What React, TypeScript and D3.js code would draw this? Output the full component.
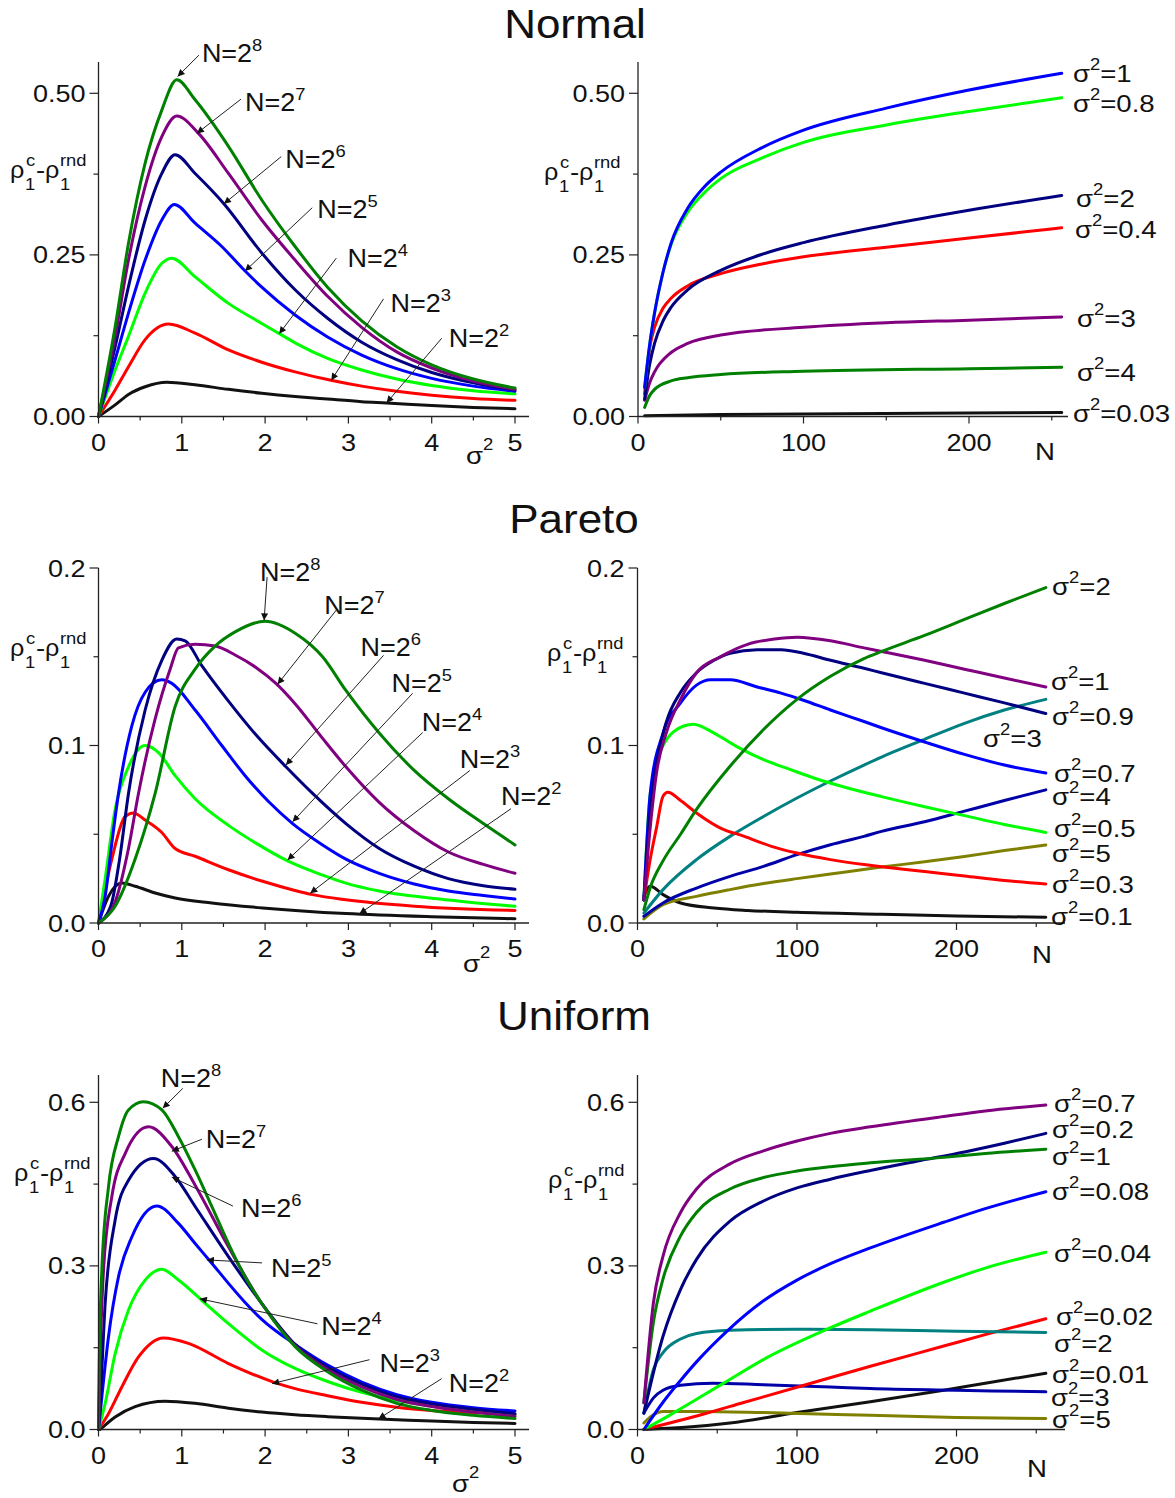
import React from 'react';
import * as d3 from 'd3';

type Pt = [number, number];

// ---------- colours ----------
const C = {
  green: '#008000', purple: '#800080', navy: '#000080', blue: '#0000ff',
  lime: '#00ff00', red: '#ff0000', black: '#111111', teal: '#008080',
  olive: '#808000', dblue: '#0000a8',
};

// ---------- tick labels ----------
const sigmaTicks = [0, 1, 2, 3, 4, 5];
const sigmaMinor = [0.5, 1.5, 2.5, 3.5, 4.5];
const nTicks = [0, 100, 200];
const nMinor = [50, 150, 250];
const normalY = [0, 0.25, 0.5];
const normalYMinor = [0.125, 0.375];
const paretoY = [0, 0.1, 0.2];
const paretoYMinor = [0.05, 0.15];
const uniformY = [0, 0.3, 0.6];
const uniformYMinor = [0.15, 0.45];

// ---------- Normal, vs sigma^2 ----------
const normalL_N8: Pt[] = [[0,0],[0.2,0.139],[0.36,0.268],[0.56,0.392],[0.76,0.474],[0.94,0.521],[1.16,0.49],[1.56,0.418],[1.96,0.335],[2.36,0.263],[2.75,0.2],[3.16,0.148],[3.58,0.108],[4,0.08],[4.5,0.058],[5,0.044]];
const normalL_N7: Pt[] = [[0,0],[0.2,0.124],[0.36,0.242],[0.56,0.356],[0.76,0.433],[0.94,0.465],[1.2,0.438],[1.56,0.376],[1.96,0.304],[2.36,0.242],[2.75,0.186],[3.16,0.138],[3.58,0.1],[4,0.075],[4.5,0.055],[5,0.042]];
const normalL_N6: Pt[] = [[0,0],[0.2,0.108],[0.36,0.201],[0.56,0.304],[0.76,0.376],[0.92,0.405],[1.16,0.376],[1.5,0.33],[1.96,0.253],[2.36,0.196],[2.75,0.152],[3.16,0.115],[3.58,0.088],[4,0.068],[4.5,0.052],[5,0.041]];
const normalL_N5: Pt[] = [[0,0],[0.2,0.088],[0.36,0.16],[0.56,0.242],[0.76,0.304],[0.91,0.328],[1.16,0.299],[1.48,0.263],[1.76,0.225],[1.96,0.2],[2.36,0.157],[2.75,0.123],[3.16,0.095],[3.58,0.074],[4,0.059],[4.5,0.047],[5,0.039]];
const normalL_N4: Pt[] = [[0,0],[0.2,0.072],[0.36,0.124],[0.56,0.191],[0.76,0.237],[0.88,0.245],[1.16,0.216],[1.56,0.175],[1.96,0.144],[2.16,0.129],[2.36,0.114],[2.75,0.09],[3.16,0.072],[3.58,0.058],[4,0.048],[4.5,0.04],[5,0.035]];
const normalL_N3: Pt[] = [[0,0],[0.2,0.041],[0.36,0.077],[0.56,0.119],[0.84,0.143],[1.16,0.129],[1.56,0.103],[1.96,0.084],[2.36,0.069],[2.79,0.056],[3.16,0.047],[3.58,0.039],[4,0.033],[4.5,0.028],[5,0.025]];
const normalL_N2: Pt[] = [[0,0],[0.2,0.018],[0.36,0.034],[0.56,0.046],[0.82,0.053],[1.16,0.049],[1.56,0.042],[1.96,0.036],[2.36,0.031],[2.75,0.027],[3.16,0.023],[3.46,0.021],[4,0.017],[4.5,0.014],[5,0.012]];

// ---------- Normal, vs N ----------
const normalR_s1: Pt[] = [[4,0.045],[7,0.11],[10,0.16],[15,0.222],[20,0.268],[30,0.322],[40,0.355],[50,0.378],[75,0.416],[100,0.443],[150,0.477],[200,0.505],[256,0.531]];
const normalR_s08: Pt[] = [[4,0.045],[7,0.11],[10,0.16],[15,0.222],[20,0.266],[30,0.316],[40,0.346],[50,0.368],[75,0.4],[100,0.424],[150,0.451],[200,0.472],[256,0.493]];
const normalR_s2: Pt[] = [[4,0.027],[7,0.08],[10,0.113],[15,0.147],[20,0.169],[30,0.196],[50,0.226],[75,0.251],[100,0.269],[150,0.296],[200,0.319],[256,0.342]];
const normalR_s04: Pt[] = [[4,0.035],[7,0.105],[10,0.138],[15,0.167],[20,0.183],[30,0.202],[50,0.221],[75,0.236],[100,0.247],[150,0.262],[200,0.276],[256,0.292]];
const normalR_s3: Pt[] = [[4,0.025],[7,0.052],[10,0.069],[20,0.099],[30,0.113],[50,0.126],[100,0.138],[150,0.145],[200,0.149],[256,0.154]];
const normalR_s4: Pt[] = [[4,0.014],[7,0.032],[10,0.042],[20,0.055],[30,0.06],[50,0.065],[100,0.07],[200,0.074],[256,0.076]];
const normalR_s003: Pt[] = [[4,0.001],[50,0.003],[100,0.004],[200,0.0055],[256,0.006]];

// ---------- Pareto, vs sigma^2 ----------
const paretoL_N8: Pt[] = [[0,0],[0.2,0.0094],[0.44,0.036],[0.68,0.073],[0.92,0.122],[1.16,0.143],[1.4,0.156],[1.64,0.164],[2.0,0.17],[2.37,0.163],[2.69,0.15],[2.97,0.131],[3.37,0.107],[3.79,0.086],[4.2,0.07],[4.62,0.056],[5,0.044]];
const paretoL_N7: Pt[] = [[0,0],[0.2,0.012],[0.36,0.042],[0.48,0.073],[0.68,0.115],[0.86,0.143],[0.96,0.155],[1.16,0.157],[1.4,0.156],[1.64,0.151],[1.89,0.144],[2.13,0.135],[2.37,0.123],[2.69,0.104],[2.97,0.088],[3.37,0.068],[3.79,0.052],[4.2,0.04],[4.62,0.033],[5,0.028]];
const paretoL_N6: Pt[] = [[0,0],[0.15,0.01],[0.25,0.035],[0.36,0.073],[0.56,0.12],[0.76,0.148],[0.94,0.16],[1.04,0.159],[1.24,0.145],[1.56,0.125],[1.89,0.106],[2.25,0.088],[2.57,0.073],[2.97,0.056],[3.37,0.042],[3.79,0.032],[4.2,0.025],[4.62,0.021],[5,0.019]];
const paretoL_N5: Pt[] = [[0,0],[0.08,0.015],[0.16,0.045],[0.24,0.073],[0.4,0.111],[0.56,0.13],[0.76,0.137],[0.88,0.135],[1.16,0.12],[1.48,0.1],[1.76,0.083],[2.05,0.068],[2.33,0.056],[2.69,0.044],[2.97,0.036],[3.37,0.028],[3.79,0.022],[4.2,0.018],[4.62,0.0155],[5,0.0135]];
const paretoL_N4: Pt[] = [[0,0],[0.08,0.025],[0.2,0.064],[0.36,0.088],[0.56,0.1],[0.72,0.096],[0.92,0.083],[1.16,0.07],[1.56,0.055],[1.89,0.045],[2.27,0.035],[2.69,0.027],[2.97,0.0225],[3.37,0.018],[4.2,0.013],[5,0.0094]];
const paretoL_N3: Pt[] = [[0,0],[0.16,0.036],[0.32,0.06],[0.42,0.062],[0.56,0.058],[0.76,0.051],[0.92,0.042],[1.16,0.0376],[1.56,0.03],[1.97,0.0235],[2.37,0.0182],[2.57,0.016],[2.97,0.0131],[3.79,0.0095],[5,0.0071]];
const paretoL_N2: Pt[] = [[0,0],[0.12,0.015],[0.28,0.0225],[0.44,0.0207],[0.68,0.0169],[0.92,0.0141],[1.36,0.0113],[1.97,0.0085],[2.97,0.0053],[4,0.0035],[5,0.0024]];

// ---------- Pareto, vs N ----------
const paretoR_s2: Pt[] = [[4,0.0075],[8,0.02],[16,0.035],[27,0.05],[37,0.064],[58,0.0883],[79,0.109],[100,0.126],[121,0.139],[142,0.149],[153,0.153],[180,0.162],[205,0.171],[230,0.18],[256,0.189]];
const paretoR_s1: Pt[] = [[4,0.013],[8,0.054],[12,0.085],[18,0.107],[27,0.126],[37,0.141],[52,0.15],[69,0.157],[86,0.16],[100,0.161],[121,0.159],[142,0.155],[153,0.153],[180,0.148],[205,0.143],[230,0.138],[256,0.133]];
const paretoR_s09: Pt[] = [[4,0.013],[8,0.062],[12,0.09],[18,0.113],[27,0.13],[37,0.141],[48,0.148],[58,0.152],[75,0.154],[90,0.154],[104,0.152],[121,0.148],[142,0.1435],[153,0.141],[180,0.135],[205,0.1295],[230,0.124],[256,0.118]];
const paretoR_s07: Pt[] = [[4,0.013],[8,0.073],[16,0.107],[27,0.124],[37,0.134],[46,0.137],[58,0.137],[75,0.133],[90,0.1295],[104,0.1255],[121,0.12],[142,0.1135],[153,0.11],[180,0.102],[205,0.095],[230,0.089],[256,0.0845]];
const paretoR_s05: Pt[] = [[4,0.013],[8,0.073],[16,0.1],[29,0.111],[35,0.112],[48,0.107],[62,0.0995],[79,0.092],[96,0.0864],[113,0.081],[130,0.0765],[153,0.0712],[180,0.0655],[205,0.0605],[230,0.0555],[256,0.051]];
const paretoR_s03: Pt[] = [[4,0.013],[8,0.036],[12,0.054],[16,0.0714],[19,0.0736],[27,0.069],[37,0.062],[52,0.0535],[67,0.0488],[84,0.0432],[100,0.0394],[121,0.0357],[142,0.0329],[153,0.0317],[180,0.029],[205,0.0265],[230,0.024],[256,0.022]];
const paretoR_s01: Pt[] = [[4,0.015],[8,0.0207],[16,0.016],[27,0.0113],[48,0.0085],[69,0.0071],[100,0.006],[153,0.0049],[200,0.004],[256,0.0032]];
const paretoR_s3: Pt[] = [[4,0.0056],[16,0.0188],[37,0.0357],[58,0.0488],[79,0.06],[100,0.0704],[121,0.08],[142,0.089],[153,0.0935],[180,0.1035],[205,0.1125],[230,0.12],[256,0.126]];
const paretoR_s4: Pt[] = [[4,0.0038],[16,0.0113],[37,0.0197],[58,0.0263],[79,0.0319],[100,0.0385],[121,0.0441],[142,0.0488],[153,0.0516],[180,0.057],[205,0.063],[230,0.069],[256,0.075]];
const paretoR_s5: Pt[] = [[4,0.0023],[16,0.0103],[37,0.015],[58,0.0188],[79,0.0222],[100,0.025],[121,0.0276],[153,0.0315],[180,0.0345],[205,0.0375],[230,0.0408],[256,0.044]];

// ---------- Uniform, vs sigma^2 ----------
const uniformL_N8: Pt[] = [[0,0],[0.008,0.109],[0.04,0.292],[0.12,0.445],[0.24,0.537],[0.36,0.586],[0.54,0.601],[0.76,0.586],[0.96,0.537],[1.16,0.476],[1.36,0.409],[1.56,0.341],[1.76,0.28],[1.96,0.231],[2.36,0.152],[2.75,0.106],[3.16,0.072],[3.58,0.048],[4,0.035],[4.5,0.026],[5,0.02]];
const uniformL_N7: Pt[] = [[0,0],[0.016,0.109],[0.06,0.292],[0.16,0.427],[0.32,0.506],[0.6,0.555],[0.88,0.519],[1.16,0.448],[1.56,0.335],[1.96,0.231],[2.36,0.154],[2.75,0.11],[3.16,0.078],[3.58,0.055],[4,0.042],[4.5,0.032],[5,0.024]];
const uniformL_N6: Pt[] = [[0,0],[0.02,0.048],[0.08,0.231],[0.2,0.384],[0.36,0.457],[0.66,0.497],[0.92,0.464],[1.16,0.409],[1.56,0.317],[1.96,0.231],[2.36,0.156],[2.75,0.114],[3.16,0.083],[3.58,0.06],[4,0.047],[4.5,0.037],[5,0.029]];
const uniformL_N5: Pt[] = [[0,0],[0.04,0.06],[0.12,0.17],[0.24,0.28],[0.4,0.353],[0.7,0.41],[0.96,0.378],[1.16,0.341],[1.36,0.305],[1.56,0.268],[1.76,0.233],[1.96,0.202],[2.36,0.156],[2.75,0.118],[3.16,0.087],[3.58,0.064],[4,0.05],[4.5,0.04],[5,0.034]];
const uniformL_N4: Pt[] = [[0,0],[0.08,0.048],[0.2,0.139],[0.36,0.219],[0.56,0.274],[0.76,0.294],[0.96,0.274],[1.24,0.237],[1.56,0.194],[1.96,0.146],[2.36,0.112],[2.75,0.088],[3.16,0.068],[3.58,0.053],[4,0.043],[4.5,0.033],[5,0.026]];
const uniformL_N3: Pt[] = [[0,0],[0.12,0.029],[0.28,0.078],[0.48,0.133],[0.78,0.168],[1.08,0.158],[1.56,0.121],[2.1,0.087],[2.36,0.075],[2.75,0.062],[3.16,0.05],[3.58,0.041],[4,0.035],[4.5,0.031],[5,0.028]];
const uniformL_N2: Pt[] = [[0.02,0],[0.2,0.023],[0.44,0.042],[0.8,0.052],[1.16,0.048],[1.56,0.039],[1.96,0.032],[2.36,0.027],[2.75,0.0235],[3.16,0.0205],[3.58,0.018],[4,0.0155],[4.5,0.013],[5,0.011]];

// ---------- Uniform, vs N ----------
const uniformR_s07: Pt[] = [[4,0.049],[10,0.233],[16,0.318],[27,0.398],[37,0.441],[58,0.487],[79,0.511],[100,0.529],[121,0.543],[146,0.555],[192,0.574],[218,0.584],[256,0.595]];
const uniformR_s1: Pt[] = [[4,0.049],[10,0.197],[16,0.276],[27,0.355],[37,0.398],[58,0.441],[79,0.462],[100,0.474],[121,0.482],[146,0.489],[192,0.499],[218,0.506],[256,0.514]];
const uniformR_s02: Pt[] = [[4,0.03],[16,0.171],[27,0.257],[37,0.312],[58,0.382],[79,0.419],[100,0.443],[121,0.459],[146,0.475],[175,0.492],[205,0.509],[230,0.525],[256,0.543]];
const uniformR_s008: Pt[] = [[4,0],[16,0.05],[27,0.09],[37,0.124],[56,0.18],[79,0.236],[100,0.274],[121,0.304],[146,0.333],[192,0.38],[218,0.405],[256,0.436]];
const uniformR_s004: Pt[] = [[4,0],[20,0.026],[54,0.085],[80,0.13],[119,0.184],[146,0.217],[192,0.27],[218,0.296],[256,0.325]];
const uniformR_s002: Pt[] = [[4,0],[41,0.028],[66,0.049],[106,0.0826],[146,0.116],[192,0.153],[218,0.174],[256,0.203]];
const uniformR_s2: Pt[] = [[4,0.03],[10,0.11],[16,0.141],[27,0.166],[37,0.176],[58,0.182],[100,0.184],[146,0.183],[200,0.18],[256,0.178]];
const uniformR_s001: Pt[] = [[4,0],[30,0.004],[58,0.012],[100,0.031],[146,0.051],[192,0.072],[218,0.085],[256,0.103]];
const uniformR_s3: Pt[] = [[4,0.03],[10,0.058],[16,0.072],[27,0.081],[47,0.085],[79,0.082],[121,0.078],[146,0.075],[200,0.072],[256,0.069]];
const uniformR_s5: Pt[] = [[4,0.012],[10,0.027],[16,0.033],[37,0.033],[79,0.031],[146,0.026],[200,0.022],[256,0.02]];

// ---------- N=2^k annotations (data units): text anchor, arrow start, arrow tip ----------
type Ann = { k: string; tx: number; ty: number; fx: number; fy: number; ax: number; ay: number };
const normalAnn: Ann[] = [
  { k: '8', tx: 1.241, ty: 0.548, fx: 1.205, fy: 0.559, ax: 0.95, ay: 0.526 },
  { k: '7', tx: 1.759, ty: 0.472, fx: 1.711, fy: 0.491, ax: 1.181, ay: 0.438 },
  { k: '6', tx: 2.241, ty: 0.385, fx: 2.193, fy: 0.402, ax: 1.506, ay: 0.329 },
  { k: '5', tx: 2.627, ty: 0.307, fx: 2.566, fy: 0.323, ax: 1.759, ay: 0.225 },
  { k: '4', tx: 2.988, ty: 0.231, fx: 2.855, fy: 0.245, ax: 2.169, ay: 0.128 },
  { k: '3', tx: 3.506, ty: 0.161, fx: 3.422, fy: 0.182, ax: 2.795, ay: 0.056 },
  { k: '2', tx: 4.205, ty: 0.107, fx: 4.12, fy: 0.121, ax: 3.458, ay: 0.021 },
];
const paretoAnn: Ann[] = [
  { k: '8', tx: 1.94, ty: 0.1927, fx: 2.024, fy: 0.1949, ax: 1.988, ay: 0.1705 },
  { k: '7', tx: 2.711, ty: 0.174, fx: 2.855, fy: 0.1763, ax: 2.15, ay: 0.1345 },
  { k: '6', tx: 3.145, ty: 0.1503, fx: 3.422, fy: 0.1508, ax: 2.25, ay: 0.089 },
  { k: '5', tx: 3.518, ty: 0.13, fx: 3.771, fy: 0.1294, ax: 2.33, ay: 0.057 },
  { k: '4', tx: 3.88, ty: 0.1079, fx: 3.892, fy: 0.1073, ax: 2.27, ay: 0.0355 },
  { k: '3', tx: 4.337, ty: 0.0876, fx: 4.458, fy: 0.0859, ax: 2.542, ay: 0.0168 },
  { k: '2', tx: 4.831, ty: 0.0667, fx: 4.952, fy: 0.0644, ax: 3.133, ay: 0.0052 },
];
const uniformAnn: Ann[] = [
  { k: '8', tx: 0.747, ty: 0.6274, fx: 1.012, fy: 0.6256, ax: 0.771, ay: 0.589 },
  { k: '7', tx: 1.289, ty: 0.5158, fx: 1.241, fy: 0.5323, ax: 0.88, ay: 0.5103 },
  { k: '6', tx: 1.711, ty: 0.3896, fx: 1.614, fy: 0.4097, ax: 0.88, ay: 0.4628 },
  { k: '5', tx: 2.072, ty: 0.2799, fx: 1.964, fy: 0.3055, ax: 1.301, ay: 0.311 },
  { k: '4', tx: 2.675, ty: 0.1738, fx: 2.627, fy: 0.1939, ax: 1.217, ay: 0.2396 },
  { k: '3', tx: 3.373, ty: 0.1061, fx: 3.253, fy: 0.128, ax: 2.084, ay: 0.0841 },
  { k: '2', tx: 4.205, ty: 0.0695, fx: 4.12, fy: 0.0933, ax: 3.361, ay: 0.0195 },
];

// ---------- sigma^2 curve labels (data units) ----------
type Lab = { v: string; x: number; y: number };
const normalLabs: Lab[] = [
  { v: '1', x: 262.8, y: 0.5175 }, { v: '0.8', x: 262.8, y: 0.471 }, { v: '2', x: 264.7, y: 0.3241 },
  { v: '0.4', x: 264, y: 0.2761 }, { v: '3', x: 265.3, y: 0.1384 }, { v: '4', x: 265.3, y: 0.0549 },
  { v: '0.03', x: 262.8, y: -0.0085 },
];
const paretoLabs: Lab[] = [
  { v: '2', x: 259.9, y: 0.1848 }, { v: '1', x: 259.2, y: 0.1313 }, { v: '0.9', x: 259.9, y: 0.1115 },
  { v: '3', x: 216.6, y: 0.0992 }, { v: '0.7', x: 261.1, y: 0.0794 }, { v: '4', x: 259.9, y: 0.0665 },
  { v: '0.5', x: 261.1, y: 0.0485 }, { v: '5', x: 259.9, y: 0.0344 }, { v: '0.3', x: 259.9, y: 0.0169 },
  { v: '0.1', x: 259.2, y: -0.0011 },
];
const uniformLabs: Lab[] = [
  { v: '0.7', x: 261.1, y: 0.5822 }, { v: '0.2', x: 259.9, y: 0.5346 }, { v: '1', x: 259.9, y: 0.485 },
  { v: '0.08', x: 259.9, y: 0.4208 }, { v: '0.04', x: 261.1, y: 0.3072 }, { v: '0.02', x: 262.4, y: 0.1916 },
  { v: '2', x: 261.1, y: 0.1421 }, { v: '0.01', x: 259.9, y: 0.0853 }, { v: '3', x: 259.2, y: 0.0431 },
  { v: '5', x: 259.9, y: 0.0028 },
];

const FONT = '"Liberation Sans", Arial, Helvetica, sans-serif';
const AX = '#222';
const SX = 1.15; // the reference lettering is slightly wide

type S = { pts: Pt[]; color: string };
type XG = { d1: number; r0: number; r1: number; end: number };
type YG = { d1: number; r0: number; r1: number; top: number };

function T(props: { x: number; y: number; size: number; anchor?: string; sx?: number; children: React.ReactNode }) {
  const sx = props.sx ?? SX;
  return (
    <text transform={`translate(${props.x},${props.y}) scale(${sx},1)`} fontSize={props.size}
      textAnchor={props.anchor || 'start'} fill="#111" fontFamily={FONT}>{props.children}</text>
  );
}

function YLabel({ x, y }: { x: number; y: number }) {
  return (
    <g>
      <T x={x} y={y} size={24} sx={1.05}>ρ</T>
      <T x={x + 16} y={y - 12} size={16}>c</T>
      <T x={x + 15} y={y + 12} size={16}>1</T>
      <T x={x + 26} y={y} size={24}>-</T>
      <T x={x + 35} y={y} size={24} sx={1.05}>ρ</T>
      <T x={x + 50} y={y - 12} size={16}>rnd</T>
      <T x={x + 50} y={y + 12} size={16}>1</T>
    </g>
  );
}

function Panel(props: {
  xg: XG; yg: YG; xMajor: number[]; xMinor: number[]; yMajor: number[]; yMinor: number[];
  yFmt: (v: number) => string; series: S[]; ann?: Ann[]; labs?: Lab[];
  ylab: [number, number]; xlab: { kind: 'sigma' | 'N'; x: number; y: number };
}) {
  const { xg, yg } = props;
  const xs = d3.scaleLinear().domain([0, xg.d1]).range([xg.r0, xg.r1]);
  const ys = d3.scaleLinear().domain([0, yg.d1]).range([yg.r0, yg.r1]);
  const line = d3.line<Pt>().x(d => xs(d[0])).y(d => ys(d[1])).curve(d3.curveMonotoneX);
  return (
    <g>
      {props.series.map((s, i) => (
        <path key={i} d={line(s.pts) || ''} fill="none" stroke={s.color} strokeWidth={3} strokeLinejoin="round" strokeLinecap="round" />
      ))}
      <line x1={xg.r0} y1={yg.r0} x2={xg.end} y2={yg.r0} stroke={AX} strokeWidth={1.3} />
      <line x1={xg.r0} y1={yg.r0} x2={xg.r0} y2={yg.top} stroke={AX} strokeWidth={1.3} />
      {props.xMajor.map(v => (
        <g key={'xm' + v}>
          <line x1={xs(v)} x2={xs(v)} y1={yg.r0} y2={yg.r0 + 7} stroke={AX} strokeWidth={1.2} />
          <T x={xs(v)} y={yg.r0 + 34} size={23.5} anchor="middle">{v}</T>
        </g>
      ))}
      {props.xMinor.map(v => (
        <line key={'xn' + v} x1={xs(v)} x2={xs(v)} y1={yg.r0} y2={yg.r0 + 4} stroke={AX} strokeWidth={1.2} />
      ))}
      {props.yMajor.map(v => (
        <g key={'ym' + v}>
          <line x1={xg.r0 - 9} x2={xg.r0} y1={ys(v)} y2={ys(v)} stroke={AX} strokeWidth={1.2} />
          <T x={xg.r0 - 13} y={ys(v) + 8.5} size={23.5} anchor="end">{props.yFmt(v)}</T>
        </g>
      ))}
      {props.yMinor.map(v => (
        <line key={'yn' + v} x1={xg.r0 - 5} x2={xg.r0} y1={ys(v)} y2={ys(v)} stroke={AX} strokeWidth={1.2} />
      ))}
      <YLabel x={props.ylab[0]} y={props.ylab[1]} />
      {props.xlab.kind === 'sigma' ? (
        <T x={props.xlab.x} y={props.xlab.y} size={24}>σ<tspan dy={-14} fontSize={16}>2</tspan></T>
      ) : (
        <T x={props.xlab.x} y={props.xlab.y} size={24}>N</T>
      )}
      {(props.ann || []).map((a, i) => (
        <g key={'a' + i}>
          <line x1={xs(a.fx)} y1={ys(a.fy)} x2={xs(a.ax)} y2={ys(a.ay)} stroke="#222" strokeWidth={1} markerEnd="url(#arr)" />
          <T x={xs(a.tx)} y={ys(a.ty)} size={25} sx={1.08}>N=2<tspan dy={-11} fontSize={17}>{a.k}</tspan></T>
        </g>
      ))}
      {(props.labs || []).map((l, i) => (
        <T key={'l' + i} x={xs(l.x)} y={ys(l.y)} size={24}>σ<tspan dy={-12} fontSize={16}>2</tspan><tspan dy={12}>={l.v}</tspan></T>
      ))}
    </g>
  );
}

const f2 = (v: number) => v.toFixed(2);
const f1 = (v: number) => v.toFixed(1);

export default function App() {
  const leftX: XG = { d1: 5, r0: 98.5, r1: 515, end: 529 };
  const rightXTop: XG = { d1: 200, r0: 638, r1: 969, end: 1068 };
  const rightX: XG = { d1: 200, r0: 637.5, r1: 956.5, end: 1065 };
  const yTop: YG = { d1: 0.5, r0: 416.5, r1: 93.3, top: 62 };
  const yMid: YG = { d1: 0.2, r0: 923, r1: 568, top: 568 };
  const yBot: YG = { d1: 0.6, r0: 1429.5, r1: 1102.3, top: 1075 };

  const nLeft: S[] = [
    { pts: normalL_N2, color: C.black }, { pts: normalL_N3, color: C.red }, { pts: normalL_N4, color: C.lime },
    { pts: normalL_N5, color: C.blue }, { pts: normalL_N6, color: C.navy }, { pts: normalL_N7, color: C.purple },
    { pts: normalL_N8, color: C.green },
  ];
  const nRight: S[] = [
    { pts: normalR_s003, color: C.black }, { pts: normalR_s4, color: C.green }, { pts: normalR_s3, color: C.purple },
    { pts: normalR_s04, color: C.red }, { pts: normalR_s2, color: C.navy }, { pts: normalR_s08, color: C.lime },
    { pts: normalR_s1, color: C.blue },
  ];
  const pLeft: S[] = [
    { pts: paretoL_N2, color: C.black }, { pts: paretoL_N3, color: C.red }, { pts: paretoL_N4, color: C.lime },
    { pts: paretoL_N5, color: C.blue }, { pts: paretoL_N6, color: C.navy }, { pts: paretoL_N7, color: C.purple },
    { pts: paretoL_N8, color: C.green },
  ];
  const pRight: S[] = [
    { pts: paretoR_s01, color: C.black }, { pts: paretoR_s5, color: C.olive }, { pts: paretoR_s4, color: C.dblue },
    { pts: paretoR_s3, color: C.teal }, { pts: paretoR_s03, color: C.red }, { pts: paretoR_s05, color: C.lime },
    { pts: paretoR_s07, color: C.blue }, { pts: paretoR_s09, color: C.navy }, { pts: paretoR_s1, color: C.purple },
    { pts: paretoR_s2, color: C.green },
  ];
  const uLeft: S[] = [
    { pts: uniformL_N2, color: C.black }, { pts: uniformL_N3, color: C.red }, { pts: uniformL_N4, color: C.lime },
    { pts: uniformL_N5, color: C.blue }, { pts: uniformL_N6, color: C.navy }, { pts: uniformL_N7, color: C.purple },
    { pts: uniformL_N8, color: C.green },
  ];
  const uRight: S[] = [
    { pts: uniformR_s001, color: C.black }, { pts: uniformR_s5, color: C.olive }, { pts: uniformR_s3, color: C.dblue },
    { pts: uniformR_s002, color: C.red }, { pts: uniformR_s2, color: C.teal }, { pts: uniformR_s004, color: C.lime },
    { pts: uniformR_s008, color: C.blue }, { pts: uniformR_s02, color: C.navy }, { pts: uniformR_s1, color: C.green },
    { pts: uniformR_s07, color: C.purple },
  ];

  return (
    <div style={{ position: 'absolute', left: 0, top: 0 }}>
      <svg width={1175} height={1498} viewBox="0 0 1175 1498" style={{ display: 'block', background: '#fff' }}>
        <defs>
          <marker id="arr" viewBox="0 0 10 10" refX={10} refY={5} markerWidth={10} markerHeight={7} markerUnits="userSpaceOnUse" orient="auto">
            <path d="M0,0 L10,5 L0,10 z" fill="#111" />
          </marker>
        </defs>
        <rect x={0} y={0} width={1175} height={1498} fill="#fff" />
        <T x={575} y={38} size={40} sx={1.1} anchor="middle">Normal</T>
        <T x={574} y={533} size={40} sx={1.1} anchor="middle">Pareto</T>
        <T x={574} y={1030} size={40} sx={1.1} anchor="middle">Uniform</T>
        <Panel xg={leftX} yg={yTop} xMajor={sigmaTicks} xMinor={sigmaMinor} yMajor={normalY} yMinor={normalYMinor}
          yFmt={f2} series={nLeft} ann={normalAnn} ylab={[10, 178]} xlab={{ kind: 'sigma', x: 466, y: 464 }} />
        <Panel xg={rightXTop} yg={yTop} xMajor={nTicks} xMinor={nMinor} yMajor={normalY} yMinor={normalYMinor}
          yFmt={f2} series={nRight} labs={normalLabs} ylab={[544, 180]} xlab={{ kind: 'N', x: 1035, y: 460 }} />
        <Panel xg={leftX} yg={yMid} xMajor={sigmaTicks} xMinor={sigmaMinor} yMajor={paretoY} yMinor={paretoYMinor}
          yFmt={f1} series={pLeft} ann={paretoAnn} ylab={[10, 656]} xlab={{ kind: 'sigma', x: 463, y: 972 }} />
        <Panel xg={rightX} yg={yMid} xMajor={nTicks} xMinor={nMinor} yMajor={paretoY} yMinor={paretoYMinor}
          yFmt={f1} series={pRight} labs={paretoLabs} ylab={[547, 661]} xlab={{ kind: 'N', x: 1032, y: 963 }} />
        <Panel xg={leftX} yg={yBot} xMajor={sigmaTicks} xMinor={sigmaMinor} yMajor={uniformY} yMinor={uniformYMinor}
          yFmt={f1} series={uLeft} ann={uniformAnn} ylab={[14, 1181]} xlab={{ kind: 'sigma', x: 452, y: 1492 }} />
        <Panel xg={rightX} yg={yBot} xMajor={nTicks} xMinor={nMinor} yMajor={uniformY} yMinor={uniformYMinor}
          yFmt={f1} series={uRight} labs={uniformLabs} ylab={[548, 1188]} xlab={{ kind: 'N', x: 1027, y: 1477 }} />
      </svg>
    </div>
  );
}
